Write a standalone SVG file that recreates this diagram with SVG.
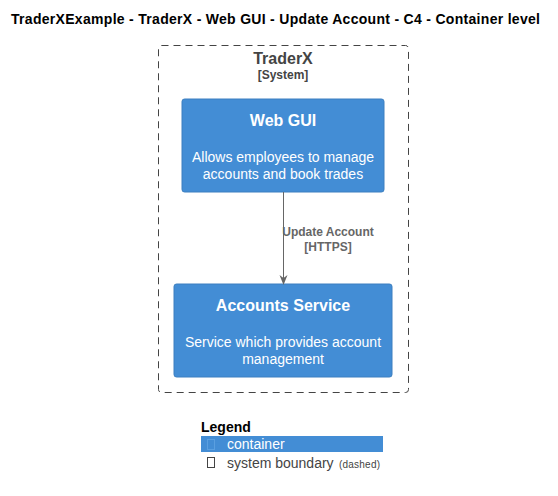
<svg xmlns="http://www.w3.org/2000/svg" width="558" height="496" viewBox="0 0 558 496">
  <style>
    text { font-family: "Liberation Sans", Arial, sans-serif; }
    .title { font-size: 14px; font-weight: bold; fill: #000; }
    .node rect { fill: #438DD5; stroke: #3C7FC0; stroke-width: 1; }
    .ntitle { font-size: 16px; font-weight: bold; fill: #FFFFFF; text-anchor: middle; }
    .ndesc { font-size: 14px; fill: #FFFFFF; text-anchor: middle; }
    .bname { font-size: 16px; font-weight: bold; fill: #444444; text-anchor: middle; }
    .btype { font-size: 12px; font-weight: bold; fill: #444444; text-anchor: middle; }
    .elabel { font-size: 12px; font-weight: bold; fill: #666666; text-anchor: middle; }
    .legend { font-size: 14px; fill: #444444; }
  </style>
  <defs>
    <marker id="arrow" viewBox="0 0 10 10" refX="9" refY="5" markerWidth="10" markerHeight="10" markerUnits="userSpaceOnUse" orient="auto">
      <path d="M0,1 L10,5 L0,9 L3,5 Z" fill="#666666"/>
    </marker>
  </defs>
  <rect width="558" height="496" fill="#FFFFFF"/>

  <text class="title" x="11" y="24" textLength="529" lengthAdjust="spacing">TraderXExample - TraderX - Web GUI - Update Account - C4 - Container level</text>

  <!-- system boundary -->
  <g id="boundary-traderx">
    <rect x="158.5" y="45.5" width="250" height="347" rx="3" ry="3" fill="none" stroke="#444444" stroke-width="1" stroke-dasharray="7,5"/>
    <text class="bname" x="283" y="64">TraderX</text>
    <text class="btype" x="283" y="79">[System]</text>
  </g>

  <!-- containers -->
  <g id="web-gui" class="node">
    <rect x="182" y="99" width="202" height="93" rx="2.5" ry="2.5"/>
    <text class="ntitle" x="283" y="126">Web GUI</text>
    <text class="ndesc" x="283" y="162">Allows employees to manage</text>
    <text class="ndesc" x="283" y="179">accounts and book trades</text>
  </g>

  <g id="accounts-service" class="node">
    <rect x="174" y="284" width="218" height="93" rx="2.5" ry="2.5"/>
    <text class="ntitle" x="283" y="311">Accounts Service</text>
    <text class="ndesc" x="283" y="347">Service which provides account</text>
    <text class="ndesc" x="283" y="364">management</text>
  </g>

  <!-- connectors -->
  <g id="connectors">
    <line x1="283.5" y1="192" x2="283.5" y2="284" stroke="#666666" stroke-width="1" marker-end="url(#arrow)"/>
    <text class="elabel" x="328" y="236">Update Account</text>
    <text class="elabel" x="328" y="251">[HTTPS]</text>
  </g>

  <!-- legend -->
  <g id="legend">
    <text x="201" y="432" font-size="14" font-weight="bold" fill="#000">Legend</text>
    <rect x="201" y="436" width="182" height="16" fill="#438DD5"/>
    <rect x="207.5" y="439.5" width="7" height="10" fill="none" stroke="#5A9FE0" stroke-width="1"/>
    <text class="legend" x="227" y="449" style="fill:#FFFFFF">container</text>
    <rect x="207.5" y="457.5" width="7" height="10" fill="none" stroke="#444444" stroke-width="1"/>
    <text class="legend" x="227" y="468">system boundary</text>
    <text x="339" y="468" font-size="10" fill="#444444" textLength="41" lengthAdjust="spacing">(dashed)</text>
  </g>
</svg>
